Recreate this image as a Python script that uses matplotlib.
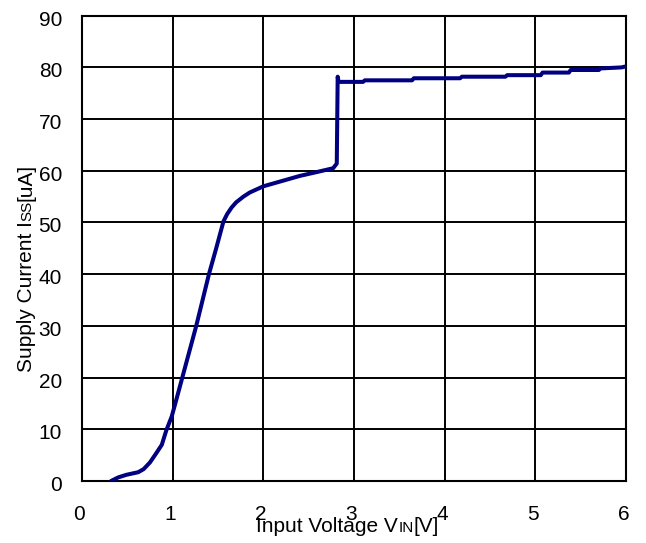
import matplotlib
matplotlib.use("Agg")
import matplotlib.pyplot as plt
from matplotlib.transforms import IdentityTransform

plt.rcParams["font.family"] = ["Liberation Sans", "DejaVu Sans"]

# Supply current versus input voltage
vin = [0.32, 0.40, 0.49, 0.62, 0.68, 0.75, 0.82, 0.88, 0.93, 0.99, 1.04, 1.10,
       1.18, 1.26, 1.33, 1.40, 1.48, 1.56, 1.60, 1.65, 1.70, 1.78, 1.85, 2.00,
       2.20, 2.40, 2.60, 2.77, 2.81, 2.82, 2.83, 3.10, 3.12, 3.64, 3.66, 4.17,
       4.19, 4.67, 4.69, 5.06, 5.08, 5.37, 5.39, 5.70, 5.72, 5.95, 6.00]
iss = [0.0, 0.7, 1.2, 1.7, 2.3, 3.6, 5.4, 7.0, 9.8, 12.5, 15.7, 19.6,
       24.8, 30.0, 35.0, 40.0, 45.0, 50.2, 51.6, 52.9, 53.9, 55.0, 55.8, 57.0,
       58.0, 59.0, 59.8, 60.5, 61.4, 78.2, 77.2, 77.2, 77.5, 77.5, 77.9, 77.9,
       78.2, 78.2, 78.5, 78.5, 79.0, 79.0, 79.5, 79.5, 79.8, 80.0, 80.2]

xticks = [0, 1, 2, 3, 4, 5, 6]
yticks = [0, 10, 20, 30, 40, 50, 60, 70, 80, 90]

W, H = 646, 543
fig = plt.figure(figsize=(W / 100, H / 100), dpi=100)
ax = fig.add_axes([82 / W, 1 - 481 / H, (626 - 82) / W, (481 - 15.7) / H])

ax.plot(vin, iss, color="#000080", lw=2.9, solid_capstyle="round",
        solid_joinstyle="round", zorder=3)

ax.set_xlim(0, 6)
ax.set_ylim(0, 90)
ax.set_xticks(xticks)
ax.set_yticks(yticks)
ax.set_xticklabels([])
ax.set_yticklabels([])
ax.tick_params(length=0)
ax.grid(True, color="black", lw=1.4)
for sp in ax.spines.values():
    sp.set_linewidth(1.5)

fs = 15
for v in xticks:
    ax.annotate(str(v), xy=(v, 0), xycoords=("data", "axes fraction"),
                xytext=(-1.8, -17.3), textcoords="offset points",
                ha="center", va="top", fontsize=fs)
for v in yticks:
    ax.annotate(str(v), xy=(0, v), xycoords=("axes fraction", "data"),
                xytext=(-14.4, -3.2), textcoords="offset points",
                ha="right", va="center", fontsize=fs)

renderer = fig.canvas.get_renderer()


def chain(pieces, x, y, rotation):
    for txt, size in pieces:
        t = fig.text(x, y, txt, fontsize=size, ha="left", va="baseline",
                     rotation=rotation, rotation_mode="anchor",
                     transform=IdentityTransform())
        bb = t.get_window_extent(renderer)
        if rotation == 0:
            x = bb.x1
        else:
            y = bb.y1


sub = 11
chain([("Input Voltage V", fs), ("IN", sub), ("[V]", fs)], 256.5, H - 531.5, 0)
chain([("Supply Current I", fs), ("SS", sub), ("[uA]", fs)], 31.5, H - 372.0, 90)

fig.savefig("out.png", dpi=100)
